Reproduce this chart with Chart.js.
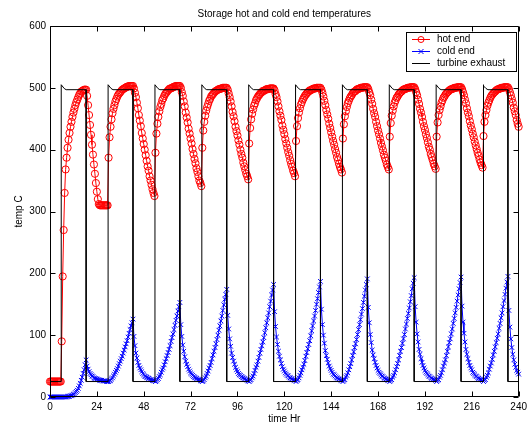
<!DOCTYPE html>
<html>
<head>
<meta charset="utf-8">
<title>Storage hot and cold end temperatures</title>
<script src="https://cdn.jsdelivr.net/npm/chart.js@4.4.0/dist/chart.umd.min.js"></script>
<style>
    html, body { margin: 0; padding: 0; background: #fff; }
    #chart { display: block; }
</style>
</head>
<body>
<canvas id="chart" width="531" height="425"></canvas>
<script>
// --- data (one sample every half hour) ---
const timeStep = 0.5; // hours between samples

const hotEnd = [
    25, 25, 25, 25, 25, 25, 25, 25, 25, 25, 25, 25,
    90, 195, 270, 330, 368, 387, 403, 416, 427, 437, 445, 453, 460, 466, 472, 477, 481, 485, 489, 491, 494, 495, 496, 497, 497, 497,
    487, 472, 456, 440, 424, 408, 392, 376, 361, 346, 332, 320, 312, 310, 310, 310, 310, 310, 310, 310, 310, 310,
    387, 420, 437, 449, 459, 466, 472, 478, 482, 486, 489, 491, 493, 495, 497, 498, 499, 500, 501, 502, 502, 503, 503, 503, 503, 503,
    499, 492, 485, 476, 467, 456, 447, 438, 427, 418, 409, 400, 391, 382, 373, 366, 357, 350, 343, 336, 330, 325,
    395, 426, 442, 453, 462, 469, 474, 480, 483, 487, 490, 492, 494, 496, 498, 499, 499, 500, 501, 502, 502, 503, 503, 503, 503, 503,
    500, 493, 487, 478, 470, 460, 452, 444, 434, 426, 418, 410, 401, 393, 385, 378, 370, 364, 357, 350, 346, 341,
    403, 431, 445, 455, 463, 469, 474, 479, 482, 486, 488, 490, 492, 494, 495, 496, 497, 498, 498, 499, 499, 500, 500, 500, 500, 500,
    497, 491, 485, 478, 470, 461, 454, 446, 437, 430, 423, 415, 408, 400, 393, 387, 379, 373, 367, 361, 357, 352,
    410, 435, 449, 458, 465, 471, 475, 480, 483, 486, 488, 490, 492, 493, 495, 495, 496, 497, 498, 498, 498, 499, 499, 499, 499, 499,
    496, 490, 485, 478, 470, 462, 455, 448, 439, 432, 425, 417, 410, 403, 396, 390, 383, 377, 372, 366, 362, 357,
    414, 438, 451, 460, 467, 473, 477, 481, 484, 487, 489, 491, 493, 494, 496, 496, 497, 498, 499, 499, 499, 500, 500, 500, 500, 500,
    497, 492, 486, 479, 472, 464, 457, 450, 442, 435, 428, 421, 414, 408, 401, 395, 388, 383, 377, 372, 368, 363,
    418, 441, 454, 462, 469, 475, 479, 483, 486, 488, 491, 493, 494, 495, 497, 498, 498, 499, 500, 500, 500, 501, 501, 501, 501, 501,
    498, 493, 488, 481, 474, 466, 459, 453, 445, 438, 431, 425, 418, 411, 405, 399, 392, 387, 382, 376, 372, 368,
    421, 443, 455, 463, 470, 476, 480, 484, 486, 489, 491, 493, 494, 496, 497, 498, 498, 499, 500, 500, 500, 501, 501, 501, 501, 501,
    498, 493, 488, 481, 474, 466, 460, 453, 445, 438, 432, 425, 419, 412, 405, 400, 393, 388, 383, 377, 373, 369,
    421, 444, 456, 464, 470, 476, 480, 484, 486, 489, 491, 493, 494, 496, 497, 498, 498, 499, 500, 500, 500, 501, 501, 501, 501, 501,
    498, 493, 488, 481, 475, 467, 460, 454, 446, 439, 433, 426, 420, 413, 407, 401, 395, 390, 384, 379, 375, 371,
    422, 445, 456, 464, 471, 476, 480, 484, 487, 489, 491, 493, 494, 496, 497, 498, 498, 499, 500, 500, 500, 501, 501, 501, 501, 501,
    498, 493, 488, 482, 476, 468, 462, 456, 448, 442, 437
];

const coldEnd = [
    0, 0, 0, 0, 0, 0, 0, 0, 0, 0, 0, 0,
    0, 0, 0, 0, 0, 0, 1, 1, 1, 2, 2, 3, 4, 5, 7, 9, 11, 14, 18, 22, 27, 32, 38, 44, 52, 60,
    50, 45, 41, 38, 36, 34, 33, 31, 30, 30, 29, 28, 28, 27, 27, 27, 26, 26, 26, 26, 25, 25,
    25, 26, 27, 29, 31, 34, 37, 40, 43, 46, 50, 54, 58, 62, 66, 71, 76, 81, 86, 91, 97, 103, 109, 115, 120, 126,
    98, 83, 71, 63, 56, 51, 47, 44, 41, 38, 36, 34, 33, 32, 31, 30, 29, 28, 28, 27, 27, 26,
    25, 26, 28, 30, 33, 36, 40, 44, 47, 52, 57, 62, 67, 72, 77, 83, 90, 96, 102, 109, 116, 124, 131, 139, 146, 153,
    117, 98, 84, 74, 65, 58, 53, 49, 45, 42, 39, 37, 35, 33, 32, 31, 30, 29, 28, 28, 27, 26,
    25, 26, 28, 31, 34, 38, 42, 47, 51, 56, 62, 68, 74, 80, 86, 93, 100, 108, 115, 123, 131, 140, 149, 158, 166, 174,
    132, 110, 94, 82, 71, 64, 58, 53, 48, 44, 41, 38, 36, 35, 33, 32, 31, 30, 29, 28, 27, 26,
    25, 27, 28, 31, 34, 38, 43, 48, 52, 58, 64, 71, 77, 83, 89, 96, 104, 112, 120, 128, 136, 146, 155, 165, 173, 182,
    138, 114, 97, 85, 74, 66, 60, 54, 49, 45, 42, 39, 37, 35, 34, 32, 31, 30, 29, 28, 27, 27,
    25, 27, 28, 31, 35, 39, 44, 48, 53, 59, 66, 72, 78, 85, 91, 99, 107, 115, 123, 131, 140, 150, 159, 169, 178, 187,
    142, 117, 100, 87, 75, 67, 61, 55, 50, 46, 43, 40, 37, 36, 34, 32, 31, 30, 29, 28, 27, 27,
    25, 27, 28, 32, 35, 39, 44, 49, 54, 60, 67, 73, 80, 86, 93, 101, 109, 117, 125, 134, 143, 153, 163, 173, 182, 191,
    145, 120, 101, 88, 76, 68, 62, 56, 51, 47, 43, 40, 38, 36, 34, 33, 31, 30, 29, 28, 27, 27,
    25, 27, 28, 32, 35, 39, 44, 49, 54, 60, 67, 74, 80, 87, 94, 101, 110, 118, 127, 135, 144, 154, 164, 175, 184, 193,
    146, 121, 102, 89, 77, 69, 62, 56, 51, 47, 43, 40, 38, 36, 34, 33, 31, 30, 29, 28, 28, 27,
    25, 27, 28, 32, 35, 39, 44, 50, 55, 60, 67, 74, 81, 88, 94, 102, 110, 119, 127, 136, 145, 155, 165, 175, 185, 194,
    147, 121, 103, 89, 77, 69, 62, 56, 51, 47, 44, 40, 38, 36, 34, 33, 31, 30, 29, 28, 28, 27,
    25, 27, 28, 32, 35, 39, 45, 50, 55, 61, 68, 74, 81, 88, 95, 102, 111, 119, 128, 136, 146, 156, 166, 176, 186, 195,
    140, 113, 94, 80, 69, 60, 53, 48, 43, 40, 37
];

// turbine exhaust is a square wave, so it gets its own corner points
const turbineHours = [
    0,
    5.75, 5.75, 6.25, 7.25, 8.25, 18.5, 18.5,
    29.75, 29.75, 30.25, 31.25, 32.25, 42.5, 42.5,
    53.75, 53.75, 54.25, 55.25, 56.25, 66.5, 66.5,
    77.75, 77.75, 78.25, 79.25, 80.25, 90.5, 90.5,
    101.75, 101.75, 102.25, 103.25, 104.25, 114.5, 114.5,
    125.75, 125.75, 126.25, 127.25, 128.25, 138.5, 138.5,
    149.75, 149.75, 150.25, 151.25, 152.25, 162.5, 162.5,
    173.75, 173.75, 174.25, 175.25, 176.25, 186.5, 186.5,
    197.75, 197.75, 198.25, 199.25, 200.25, 210.5, 210.5,
    221.75, 221.75, 222.25, 223.25, 224.25, 234.5, 234.5,
    240
];
const turbineTemps = [
    25,
    25, 505, 503, 499, 497, 497, 25,
    25, 505, 503, 499, 497, 497, 25,
    25, 505, 503, 499, 497, 497, 25,
    25, 505, 503, 499, 497, 497, 25,
    25, 505, 503, 499, 497, 497, 25,
    25, 505, 503, 499, 497, 497, 25,
    25, 505, 503, 499, 497, 497, 25,
    25, 505, 503, 499, 497, 497, 25,
    25, 505, 503, 499, 497, 497, 25,
    25, 505, 503, 499, 497, 497, 25,
    25
];

const seriesNames = ['hot end', 'cold end', 'turbine exhaust'];
const xTicks = [0, 24, 48, 72, 96, 120, 144, 168, 192, 216, 240];
const yTicks = [0, 100, 200, 300, 400, 500, 600];

const chartTitle = 'Storage hot and cold end temperatures';
const xTitle = 'time Hr';
const yTitle = 'temp C';

// --- helpers ---
const FONT = '"Liberation Sans", Arial, Helvetica, sans-serif';
const sampleTimes = hotEnd.map((v, i) => i * timeStep);
const hotPoints = hotEnd.map((v, i) => ({ x: sampleTimes[i], y: v }));
const coldPoints = coldEnd.map((v, i) => ({ x: sampleTimes[i], y: v }));
const turbinePoints = turbineHours.map((h, i) => ({ x: h, y: turbineTemps[i] }));

// matlab style frame: box, inward ticks on all four sides, titles, legend
const matlabFrame = {
    id: 'matlabFrame',
    afterDraw(chart) {
        const { ctx, chartArea: a, scales } = chart;
        const x = scales.x, y = scales.y;
        const left = Math.round(a.left) + 0.5;
        const right = Math.round(a.right) - 0.5;
        const top = Math.round(a.top) + 0.5;
        const bottom = Math.round(a.bottom) - 0.5;
        const tick = 5;

        ctx.save();
        ctx.strokeStyle = '#000';
        ctx.lineWidth = 1;
        ctx.beginPath();
        ctx.rect(left, top, right - left, bottom - top);
        xTicks.forEach(v => {
            const px = Math.round(x.getPixelForValue(v)) + 0.5;
            ctx.moveTo(px, bottom); ctx.lineTo(px, bottom - tick);
            ctx.moveTo(px, top); ctx.lineTo(px, top + tick);
        });
        yTicks.forEach(v => {
            const py = Math.round(y.getPixelForValue(v)) + 0.5;
            ctx.moveTo(left, py); ctx.lineTo(left + tick, py);
            ctx.moveTo(right, py); ctx.lineTo(right - tick, py);
        });
        ctx.stroke();

        // titles
        const cx = (a.left + a.right) / 2;
        ctx.fillStyle = '#000';
        ctx.font = '10px ' + FONT;
        ctx.textAlign = 'center';
        ctx.textBaseline = 'middle';
        ctx.fillText(chartTitle, cx, 14);
        ctx.fillText(xTitle, cx, 419);
        ctx.save();
        ctx.translate(19, (a.top + a.bottom) / 2);
        ctx.rotate(-Math.PI / 2);
        ctx.fillText(yTitle, 0, 0);
        ctx.restore();

        // legend
        const box = { x: 406.5, y: 32.5, w: 110, h: 39 };
        ctx.fillStyle = '#fff';
        ctx.fillRect(box.x, box.y, box.w, box.h);
        ctx.strokeRect(box.x, box.y, box.w, box.h);
        const colors = ['#ff0000', '#0000ff', '#000000'];
        seriesNames.forEach((name, i) => {
            const ly = 39.5 + i * 12;
            ctx.strokeStyle = colors[i];
            ctx.beginPath();
            ctx.moveTo(412, ly); ctx.lineTo(430, ly);
            ctx.stroke();
            ctx.beginPath();
            if (i === 0) {
                ctx.arc(421, ly, 3, 0, Math.PI * 2);
            } else if (i === 1) {
                ctx.moveTo(418.5, ly - 2.5); ctx.lineTo(423.5, ly + 2.5);
                ctx.moveTo(418.5, ly + 2.5); ctx.lineTo(423.5, ly - 2.5);
            }
            ctx.stroke();
            ctx.fillStyle = '#000';
            ctx.textAlign = 'left';
            ctx.fillText(name, 437, ly);
        });
        ctx.restore();
    }
};

const tickFont = { family: FONT, size: 10 };

new Chart(document.getElementById('chart'), {
    type: 'line',
    data: {
        datasets: [
            {
                label: seriesNames[0],
                data: hotPoints,
                borderColor: '#ff0000',
                borderWidth: 1,
                pointStyle: 'circle',
                pointRadius: 3.6,
                pointBorderColor: '#ff0000',
                pointBackgroundColor: 'rgba(0,0,0,0)',
                pointBorderWidth: 1,
                clip: false,
                order: 3
            },
            {
                label: seriesNames[1],
                data: coldPoints,
                borderColor: '#0000ff',
                borderWidth: 1,
                pointStyle: 'crossRot',
                pointRadius: 3.3,
                pointBorderColor: '#0000ff',
                pointBorderWidth: 1,
                clip: false,
                order: 2
            },
            {
                label: seriesNames[2],
                data: turbinePoints,
                borderColor: '#000000',
                borderWidth: 1,
                pointRadius: 0,
                clip: false,
                order: 1
            }
        ]
    },
    options: {
        responsive: false,
        animation: false,
        devicePixelRatio: 1,
        layout: { padding: { top: 26, right: 10, left: 0, bottom: 0 } },
        plugins: {
            legend: { display: false },
            title: { display: false },
            tooltip: { enabled: false }
        },
        elements: { line: { tension: 0 } },
        scales: {
            x: {
                type: 'linear',
                min: 0,
                max: 240,
                afterFit: s => { s.height = 28; },
                afterBuildTicks: s => { s.ticks = xTicks.map(v => ({ value: v })); },
                grid: { display: false, drawTicks: false },
                border: { display: false },
                ticks: { color: '#000', font: tickFont, padding: 4, maxRotation: 0, autoSkip: false }
            },
            y: {
                type: 'linear',
                min: 0,
                max: 600,
                afterFit: s => { s.width = 50; },
                afterBuildTicks: s => { s.ticks = yTicks.map(v => ({ value: v })); },
                grid: { display: false, drawTicks: false },
                border: { display: false },
                ticks: { color: '#000', font: tickFont, padding: 4 }
            }
        }
    },
    plugins: [matlabFrame]
});
</script>
</body>
</html>
